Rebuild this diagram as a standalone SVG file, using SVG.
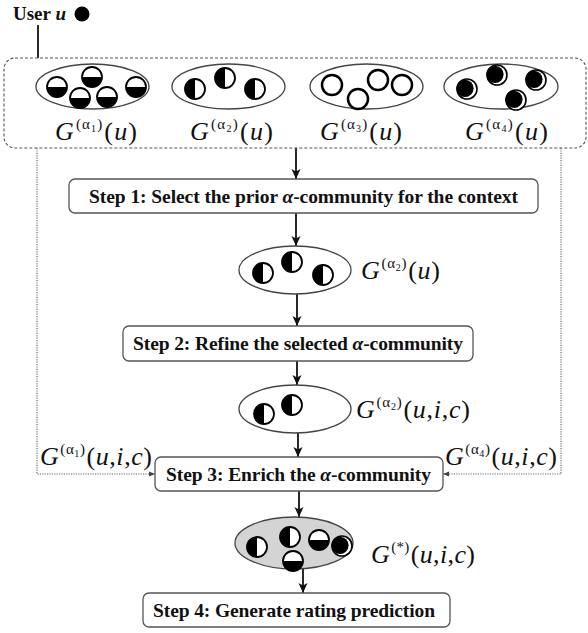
<svg xmlns="http://www.w3.org/2000/svg" xmlns:xlink="http://www.w3.org/1999/xlink" width="588" height="633" viewBox="0 0 588 633">
<style>
.step{font-family:"Liberation Serif","Times New Roman",serif;font-weight:bold;font-size:19.5px;fill:#111}
.m{font-family:"Liberation Serif","Times New Roman",serif;font-size:26px;fill:#111}
.i{font-style:italic}
.sup{font-size:15px}
.sub{font-size:10px}
.box{fill:#fff;stroke:#555;stroke-width:1.3}
.ell{fill:#fff;stroke:#444;stroke-width:1.3}
.arrow{stroke:#111;stroke-width:1.8;fill:none;marker-end:url(#ah)}
.dot{stroke:#666;stroke-width:1.1;stroke-dasharray:1.2 1.2;fill:none;marker-end:url(#ahs)}
</style>
<defs>
<marker id="ah" viewBox="0 0 10 10" refX="10" refY="5" markerWidth="10" markerHeight="10" markerUnits="userSpaceOnUse" orient="auto">
<path d="M0,0.5 L10,5 L0,9.5 L2.5,5 Z" fill="#111"/>
</marker>
<marker id="ahs" viewBox="0 0 10 10" refX="10" refY="5" markerWidth="6" markerHeight="6" markerUnits="userSpaceOnUse" orient="auto">
<path d="M0,1 L10,5 L0,9 Z" fill="#444"/>
</marker>
<g id="hb"><circle r="10" fill="#fff" stroke="#000" stroke-width="1.8"/><path d="M-10,0 A10,10 0 0 0 10,0 Z" fill="#000"/></g>
<g id="vl"><circle r="10" fill="#fff" stroke="#000" stroke-width="1.8"/><path d="M0,-10 A10,10 0 0 0 0,10 Z" fill="#000"/></g>
<g id="op"><circle r="10" fill="#fff" stroke="#000" stroke-width="2.5"/></g>
<g id="mo"><circle r="10" fill="#fff" stroke="#000" stroke-width="1.6"/><circle cx="-2" cy="-0.7" r="8.6" fill="#000"/></g>
</defs>

<g id="user">
<text x="13" y="20" font-family="Liberation Serif,serif" font-weight="bold" font-size="19" fill="#111">User <tspan font-style="italic">u</tspan></text>
<circle cx="82" cy="14" r="7.5" fill="#000"/>
</g>

<g id="connectors">
<line x1="38" y1="25" x2="38" y2="58" stroke="#111" stroke-width="1.8"/>
<path class="dot" d="M37,148 V474 H155"/>
<path class="dot" d="M561,148 V474 H443"/>
<line class="arrow" x1="296" y1="148" x2="296" y2="179"/>
<line class="arrow" x1="296" y1="213" x2="296" y2="246"/>
<line class="arrow" x1="297" y1="294" x2="297" y2="326"/>
<line class="arrow" x1="297" y1="361" x2="297" y2="385"/>
<line class="arrow" x1="298" y1="433" x2="298" y2="457"/>
<line class="arrow" x1="299" y1="491" x2="299" y2="517"/>
<line class="arrow" x1="303" y1="569" x2="303" y2="593"/>
</g>

<g id="candidates">
<rect x="4" y="58" width="582" height="90" rx="11" fill="none" stroke="#555" stroke-width="1.1" stroke-dasharray="3 2"/>
</g>

<g id="g1">
<ellipse class="ell" cx="92.5" cy="86.5" rx="56.5" ry="22.5"/>
<use href="#hb" x="57" y="87"/><use href="#hb" x="92" y="77"/><use href="#hb" x="80" y="98"/><use href="#hb" x="107" y="97"/><use href="#hb" x="136" y="87"/>
<text class="m" x="55" y="140" textLength="82"><tspan class="i">G</tspan><tspan class="sup" dx="1" dy="-11">(α</tspan><tspan class="sub" dy="3">1</tspan><tspan class="sup" dy="-3">)</tspan><tspan dx="1" dy="11">(</tspan><tspan class="i">u</tspan>)</text>
</g>
<g id="g2">
<ellipse class="ell" cx="228.5" cy="86.5" rx="56.5" ry="22.5"/>
<use href="#vl" x="195" y="89"/><use href="#vl" x="225" y="78"/><use href="#vl" x="255" y="89"/>
<text class="m" x="190" y="140" textLength="83"><tspan class="i">G</tspan><tspan class="sup" dx="1" dy="-11">(α</tspan><tspan class="sub" dy="3">2</tspan><tspan class="sup" dy="-3">)</tspan><tspan dx="1" dy="11">(</tspan><tspan class="i">u</tspan>)</text>
</g>
<g id="g3">
<ellipse class="ell" cx="366.5" cy="86.5" rx="56.5" ry="22.5"/>
<use href="#op" x="332" y="85"/><use href="#op" x="358" y="99"/><use href="#op" x="378" y="80"/><use href="#op" x="402" y="85"/>
<text class="m" x="320" y="140" textLength="82"><tspan class="i">G</tspan><tspan class="sup" dx="1" dy="-11">(α</tspan><tspan class="sub" dy="3">3</tspan><tspan class="sup" dy="-3">)</tspan><tspan dx="1" dy="11">(</tspan><tspan class="i">u</tspan>)</text>
</g>
<g id="g4">
<ellipse class="ell" cx="501" cy="86.5" rx="57" ry="22.5"/>
<use href="#mo" x="467" y="89"/><use href="#mo" x="497" y="75"/><use href="#mo" x="536" y="80"/><use href="#mo" x="516" y="100"/>
<text class="m" x="465" y="140" textLength="83"><tspan class="i">G</tspan><tspan class="sup" dx="1" dy="-11">(α</tspan><tspan class="sub" dy="3">4</tspan><tspan class="sup" dy="-3">)</tspan><tspan dx="1" dy="11">(</tspan><tspan class="i">u</tspan>)</text>
</g>

<g id="step1">
<rect class="box" x="69" y="179" width="469" height="34" rx="6"/>
<text class="step" x="89" y="203" textLength="429">Step 1: Select the prior <tspan class="i">α</tspan>-community for the context</text>
</g>

<g id="sel">
<ellipse class="ell" cx="295" cy="270" rx="56" ry="24"/>
<use href="#vl" x="263" y="273"/><use href="#vl" x="292" y="262"/><use href="#vl" x="323" y="275"/>
<text class="m" x="361" y="279" textLength="79"><tspan class="i">G</tspan><tspan class="sup" dx="1" dy="-11">(α</tspan><tspan class="sub" dy="3">2</tspan><tspan class="sup" dy="-3">)</tspan><tspan dx="1" dy="11">(</tspan><tspan class="i">u</tspan>)</text>
</g>

<g id="step2">
<rect class="box" x="123" y="326" width="350" height="35" rx="6"/>
<text class="step" x="133" y="350" textLength="330">Step 2: Refine the selected <tspan class="i">α</tspan>-community</text>
</g>

<g id="refined">
<ellipse class="ell" cx="295" cy="409" rx="56" ry="24"/>
<use href="#vl" x="264" y="414"/><use href="#vl" x="292" y="405"/>
<text class="m" x="356" y="418" textLength="114"><tspan class="i">G</tspan><tspan class="sup" dx="1" dy="-11">(α</tspan><tspan class="sub" dy="3">2</tspan><tspan class="sup" dy="-3">)</tspan><tspan dx="1" dy="11">(</tspan><tspan class="i">u</tspan>,<tspan class="i">i</tspan>,<tspan class="i">c</tspan>)</text>
</g>

<g id="lab1">
<text class="m" x="40" y="465" textLength="112"><tspan class="i">G</tspan><tspan class="sup" dx="1" dy="-11">(α</tspan><tspan class="sub" dy="3">1</tspan><tspan class="sup" dy="-3">)</tspan><tspan dx="1" dy="11">(</tspan><tspan class="i">u</tspan>,<tspan class="i">i</tspan>,<tspan class="i">c</tspan>)</text>
</g>
<g id="lab4">
<text class="m" x="445" y="465" textLength="112"><tspan class="i">G</tspan><tspan class="sup" dx="1" dy="-11">(α</tspan><tspan class="sub" dy="3">4</tspan><tspan class="sup" dy="-3">)</tspan><tspan dx="1" dy="11">(</tspan><tspan class="i">u</tspan>,<tspan class="i">i</tspan>,<tspan class="i">c</tspan>)</text>
</g>

<g id="step3">
<rect class="box" x="155" y="457" width="288" height="34" rx="6"/>
<text class="step" x="166" y="481" textLength="265">Step 3: Enrich the <tspan class="i">α</tspan>-community</text>
</g>

<g id="enriched">
<ellipse cx="294" cy="543" rx="59" ry="26" fill="#d4d4d4" stroke="#444" stroke-width="1.3"/>
<use href="#vl" x="257" y="547"/><use href="#vl" x="290" y="537"/><use href="#hb" x="319" y="540"/><use href="#hb" x="293" y="561"/><use href="#mo" x="342" y="546"/>
<text class="m" x="371" y="563" textLength="104"><tspan class="i">G</tspan><tspan class="sup" dx="1" dy="-11">(*)</tspan><tspan dx="1" dy="11">(</tspan><tspan class="i">u</tspan>,<tspan class="i">i</tspan>,<tspan class="i">c</tspan>)</text>
</g>

<g id="step4">
<rect class="box" x="143" y="593" width="307" height="34" rx="6"/>
<text class="step" x="153" y="617" textLength="282">Step 4: Generate rating prediction</text>
</g>
</svg>
